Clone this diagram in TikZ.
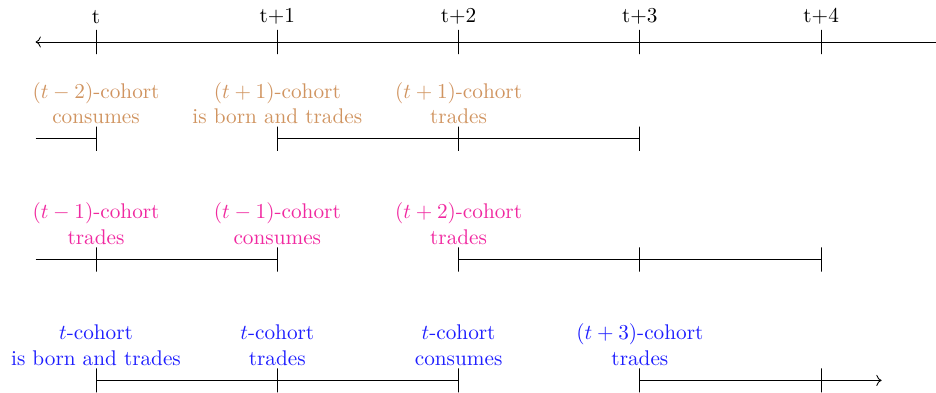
\documentclass[tikz,border=0pt]{standalone}
\usetikzlibrary{positioning, arrows.meta}
\usepackage{amsmath, amssymb}
\definecolor{cohortbrown}{RGB}{208,148,96}
\definecolor{cohortpink}{RGB}{240,40,160}
\definecolor{cohortblue}{RGB}{30,30,255}

\begin{document}
\begin{tikzpicture}[thin,
    tickbar/.style={draw, rectangle, minimum width=0pt, minimum height=0.4cm, inner sep=0pt},
    cohort/.style={align=center}]
      \useasboundingbox (-1.589,-5.792) rectangle (13.9,0.695);

      % time axis
      \foreach \i/\lab in {0/t, 1/t+1, 2/t+2, 3/t+3, 4/t+4} {
        \node[tickbar] (a\i) at (3*\i,0) {};
        \node (ta\i) [above=-1pt of a\i] {\lab};
      }
      \coordinate (aL) at (-1,0);
      \coordinate (aR) at (14,0);
      \draw[->] (aR) -- (aL);

      % first row
      \foreach \i in {0,...,3} \node[tickbar] (b\i) at (3*\i,-1.6) {};
      \coordinate (bL) at (-1,-1.6);
      \draw (bL) -- (b0) (b1) -- (b3);
      \node[cohort, cohortbrown] (lb0) [above=-2.4pt of b0] {$(t-2)$-cohort\\consumes};
      \node[cohort, cohortbrown] (lb1) [above=-2.4pt of b1] {$(t+1)$-cohort\\is born and trades};
      \node[cohort, cohortbrown] (lb2) [above=-2.4pt of b2] {$(t+1)$-cohort\\trades};

      % second row
      \foreach \i in {0,...,4} \node[tickbar] (c\i) at (3*\i,-3.6) {};
      \coordinate (cL) at (-1,-3.6);
      \draw (cL) -- (c1) (c2) -- (c4);
      \node[cohort, cohortpink] (lc0) [above=-2.4pt of c0] {$(t-1)$-cohort\\trades};
      \node[cohort, cohortpink] (lc1) [above=-2.4pt of c1] {$(t-1)$-cohort\\consumes};
      \node[cohort, cohortpink] (lc2) [above=-2.4pt of c2] {$(t+2)$-cohort\\trades};

      % third row
      \foreach \i in {0,...,4} \node[tickbar] (d\i) at (3*\i,-5.6) {};
      \coordinate (dR) at (13,-5.6);
      \draw (d0) -- (d2);
      \draw[->] (d3) -- (dR);
      \node[cohort, cohortblue] (ld0) [above=-2.4pt of d0] {$t$-cohort\\is born and trades};
      \node[cohort, cohortblue] (ld1) [above=-2.4pt of d1] {$t$-cohort\\trades};
      \node[cohort, cohortblue] (ld2) [above=-2.4pt of d2] {$t$-cohort\\consumes};
      \node[cohort, cohortblue] (ld3) [above=-2.4pt of d3] {$(t+3)$-cohort\\trades};
    \end{tikzpicture}
\end{document}
